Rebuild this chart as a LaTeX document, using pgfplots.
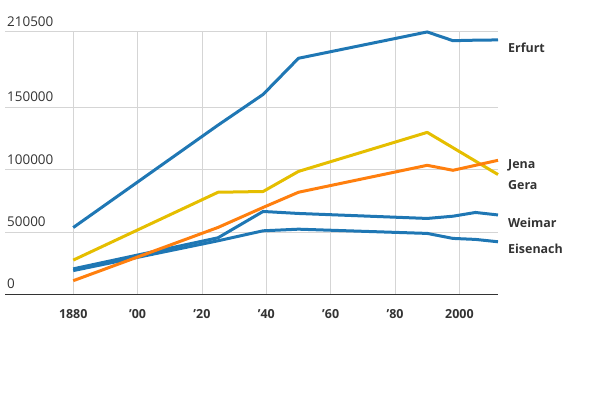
\documentclass[border=0pt]{standalone}
\usepackage{fontspec}
\setmainfont{Open Sans}
\usepackage{pgfplots}
\pgfplotsset{compat=1.18}
\definecolor{cblue}{HTML}{1F77B4}
\definecolor{corange}{HTML}{FF7F0E}
\definecolor{cyellow}{HTML}{E5BE00}
\definecolor{cgrid}{HTML}{D5D5D5}
\definecolor{ctext}{HTML}{333333}
\begin{document}
\begin{tikzpicture}
\path[use as bounding box] (0,0) rectangle (600bp,400bp);
\begin{axis}[
 at={(5bp,105.7bp)}, anchor=south west, scale only axis, width=493bp, height=262.6bp,
 xmin=1858.8, xmax=2012, ymin=0, ymax=210500,
 scaled y ticks=false, scaled x ticks=false,
 axis line style={draw=none},
 xtick={1880,1900,1920,1940,1960,1980,2000},
 xticklabels={1880,’00,’20,’40,’60,’80,2000},
 ytick={50000,100000,150000,210500},
 yticklabels={50000,100000,150000,210500},
 extra y ticks={0}, extra y tick labels={0},
 extra y tick style={major grid style={draw=ctext, line width=1.2bp}},
 major tick length=0pt,
 xmajorgrids, ymajorgrids,
 major grid style={draw=cgrid, line width=0.8bp},
 xticklabel style={font=\fontsize{12.5}{14}\selectfont\bfseries, text=ctext, anchor=north, inner sep=0pt, yshift=-15bp},
 yticklabel style={font=\fontsize{13.5}{15}\selectfont, text=ctext, anchor=south west, inner sep=0pt, xshift=2bp, yshift=5bp},
 clip=false,
 every axis plot/.append style={line width=3bp, no markers, line join=round},
]
\addplot[cblue] coordinates {(1880,20400) (1925,45300) (1939,66400) (1950,64800) (1990,60800) (1998,62600) (2005,65600) (2012,63600)};
\addplot[cblue] coordinates {(1880,19000) (1925,42900) (1939,50900) (1950,52200) (1990,48800) (1998,44800) (2005,44000) (2012,42100)};
\addplot[cblue] coordinates {(1880,53500) (1925,135600) (1939,160200) (1950,189200) (1990,210300) (1998,203300) (2005,203700) (2012,203900)};
\addplot[cyellow] coordinates {(1880,27400) (1925,81800) (1939,82400) (1950,98500) (1990,129800) (2012,96000)};
\addplot[corange] coordinates {(1880,10900) (1925,53600) (1939,69600) (1950,81800) (1990,103400) (1998,99400) (2012,107400)};
\begin{scope}[every node/.style={anchor=base west, inner sep=0pt, xshift=10bp, text=ctext, font=\fontsize{12.5}{14}\selectfont\bfseries}]
\node at (axis cs:2012,193500) {Erfurt};
\node at (axis cs:2012,100600) {Jena};
\node at (axis cs:2012,83800) {Gera};
\node at (axis cs:2012,53650) {Weimar};
\node at (axis cs:2012,32600) {Eisenach};
\end{scope}
\end{axis}
\end{tikzpicture}
\end{document}
